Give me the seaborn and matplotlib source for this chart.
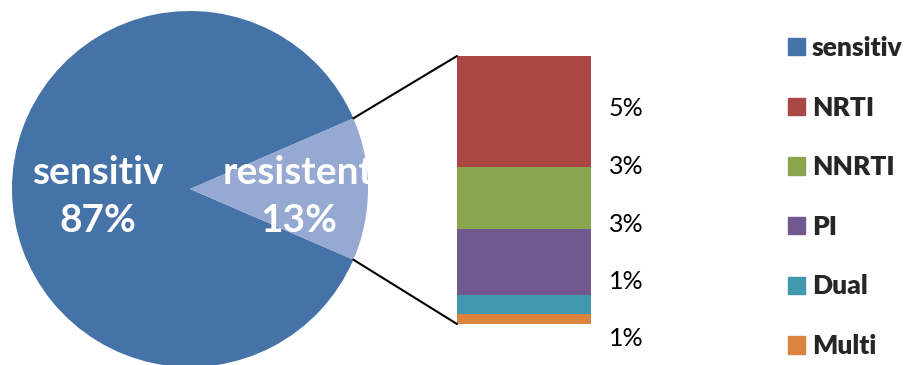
import numpy as np
import pandas as pd
import matplotlib
matplotlib.use("Agg")
import matplotlib.pyplot as plt
from matplotlib.lines import Line2D
from matplotlib.patches import Patch
import seaborn as sns

# Overall split of the samples
pie_labels = ["sensitiv", "resistent"]
pie_values = [87, 13]
pie_colors = ["#4572A7", "#95A9D3"]

# Breakdown of the resistent share by drug class (percent of all samples)
classes = ["NRTI", "NNRTI", "PI", "Dual", "Multi"]
class_values = [5.4, 3.0, 3.2, 0.9, 0.5]
class_colors = ["#AA4643", "#89A54E", "#71588F", "#4198AF", "#DB843D"]

sns.set_theme(style="white")
plt.rcParams["font.family"] = ["Lato", "DejaVu Sans"]

W, H = 906, 365
fig = plt.figure(figsize=(W / 100, H / 100), dpi=100)


def fx(x):
    return x / W


def fy(y):
    return 1 - y / H


# ---- pie of sensitiv vs resistent ----
cx, cy, r = 190, 189, 178
ax_pie = fig.add_axes([fx(cx - r), fy(cy + r), 2 * r / W, 2 * r / H])
half_angle = pie_values[1] / sum(pie_values) * 180
ax_pie.pie(pie_values, colors=pie_colors, startangle=half_angle,
           counterclock=True, wedgeprops=dict(linewidth=0))
ax_pie.set_xlim(-1, 1)
ax_pie.set_ylim(-1, 1)
ax_pie.axis("off")

label_pos = [(-0.52, -0.04), (0.61, -0.04)]
for name, val, (lx, ly) in zip(pie_labels, pie_values, label_pos):
    ax_pie.text(lx, ly, f"{name}\n{val}%", ha="center", va="center",
                color="white", fontsize=28, fontweight="bold",
                linespacing=1.45, clip_on=True)

# ---- stacked bar of the resistent classes ----
bx0, bx1, by0, by1 = 457, 591, 56, 324
ax_bar = fig.add_axes([fx(bx0), fy(by1), (bx1 - bx0) / W, (by1 - by0) / H])
bottom_up = list(range(len(classes)))[::-1]          # Multi at the bottom
tops = np.cumsum([class_values[i] for i in bottom_up])
df = pd.DataFrame({"group": "resistent",
                   "klasse": [classes[i] for i in bottom_up],
                   "top": tops,
                   "color": [class_colors[i] for i in bottom_up]})
for _, row in df.iloc[::-1].iterrows():
    sns.barplot(data=pd.DataFrame([row]), x="group", y="top",
                color=row["color"], width=1, saturation=1,
                linewidth=0, ax=ax_bar)
ax_bar.set_xlim(-0.5, 0.5)
ax_bar.set_ylim(0, tops[-1])
ax_bar.axis("off")

# value labels beside the bar
label_ys = np.linspace(109, 339, len(classes))
for v, yy in zip(class_values, label_ys):
    fig.text(fx(626), fy(yy), f"{int(np.floor(v + 0.5))}%",
             ha="center", va="center", fontsize=18, color="black")

# connector lines from the resistent wedge to the bar
ang = np.deg2rad(half_angle)
for sgn, by in ((1, by0), (-1, by1)):
    px = cx + r * np.cos(ang)
    py = cy - sgn * r * np.sin(ang)
    fig.add_artist(Line2D([fx(px), fx(bx0)], [fy(py), fy(by)],
                          transform=fig.transFigure, color="black", lw=1.5))

# ---- legend ----
handles = [Patch(color=pie_colors[0], label=pie_labels[0])] + \
          [Patch(color=c, label=l) for l, c in zip(classes, class_colors)]
fig.legend(handles=handles, loc="upper left",
           bbox_to_anchor=(fx(788), fy(36)), frameon=False,
           prop=dict(size=19, weight="heavy"), borderpad=0, borderaxespad=0,
           handlelength=0.64, handleheight=0.64, handletextpad=0.27,
           labelspacing=1.35)

fig.savefig("out.png", dpi=100)
